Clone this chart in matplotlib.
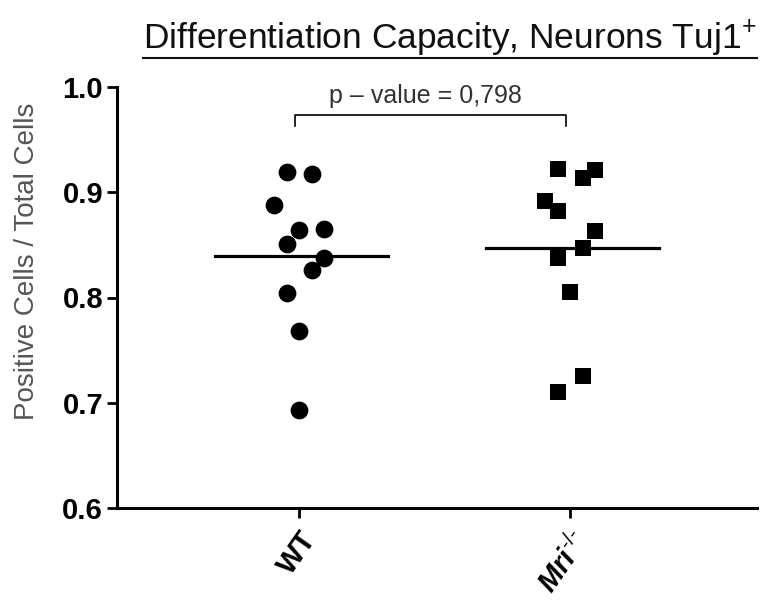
import numpy as np
import matplotlib.pyplot as plt

plt.rcParams['font.family'] = ['Liberation Sans', 'DejaVu Sans']
plt.rcParams['mathtext.fontset'] = 'custom'
plt.rcParams['mathtext.rm'] = 'Liberation Sans'
plt.rcParams['mathtext.bf'] = 'Liberation Sans:bold'
plt.rcParams['mathtext.it'] = 'Liberation Sans:italic:bold'

# values
wt_values = [0.919, 0.917, 0.888, 0.864, 0.865, 0.851, 0.838, 0.826, 0.804, 0.768, 0.693]
mri_values = [0.922, 0.914, 0.921, 0.892, 0.882, 0.863, 0.847, 0.838, 0.805, 0.725, 0.710]
group_labels = ['WT', r'$\mathit{Mri}^{\mathbf{\text{-/-}}}$']
yticks = [0.6, 0.7, 0.8, 0.9, 1.0]
p_text = 'p \u2013 value = 0,798'
title = 'Differentiation Capacity, Neurons Tuj1$^{+}$'
ylabel = 'Positive Cells / Total Cells'

# horizontal spread of the points (scatter dot plot layout)
wt_slots = [-1, 1, -2, 0, 2, -1, 2, 1, -1, 0, 0]
mri_slots = [-1, 1, 2, -2, -1, 2, 1, -1, 0, 1, -1]
slot_w = 0.046

fig = plt.figure(figsize=(7.6, 6), dpi=100)
ax = fig.add_axes([117/760, 92/600, 640/760, 421/600])

ax.scatter(0 + np.array(wt_slots) * slot_w, wt_values, marker='o', s=12.8**2,
           color='black', linewidths=0, zorder=3)
ax.scatter(1 + np.array(mri_slots) * slot_w, mri_values, marker='s', s=12.2**2,
           color='black', linewidths=0, zorder=3)

# mean lines
for i, vals in enumerate([wt_values, mri_values]):
    m = np.mean(vals)
    ax.plot([i - 0.31, i + 0.33], [m, m], color='black', lw=2.3, zorder=2)

# significance bracket
ax.plot([-0.015, -0.015, 0.985, 0.985], [0.963, 0.973, 0.973, 0.963],
        color='black', lw=1.2, clip_on=False)
ax.text(0.467, 0.985, p_text, ha='center', va='baseline', fontsize=18,
        color='#333333')

ax.set_xlim(-0.672, 1.69)
ax.set_ylim(0.6, 1.0)
ax.set_yticks(yticks)
ax.set_yticklabels(['%.1f' % v for v in yticks], fontsize=21, fontweight='bold')
ax.set_xticks([0, 1])
ax.set_xticklabels(group_labels, fontsize=21, fontweight='bold', rotation=55,
                   ha='right', rotation_mode='anchor')

for side in ['top', 'right']:
    ax.spines[side].set_visible(False)
for side in ['left', 'bottom']:
    ax.spines[side].set_linewidth(2.2)
ax.tick_params(direction='out', length=7, width=2.0, pad=3)
ax.tick_params(axis='x', pad=6)

ax.set_ylabel(ylabel, fontsize=20, color='#555555')
ax.yaxis.set_label_coords(-0.12, 0.585)

t = fig.text(0.592, 1 - 49 / 600, title, ha='center', va='baseline', fontsize=25.5,
             color='#111111')

# underline the title
fig.canvas.draw()
bb = t.get_window_extent()
uy = 1 - 58 / 600
fig.add_artist(plt.Line2D([bb.x0 / 760, bb.x1 / 760], [uy, uy],
                          color='#111111', lw=1.5))

fig.savefig('out.png', dpi=100)
